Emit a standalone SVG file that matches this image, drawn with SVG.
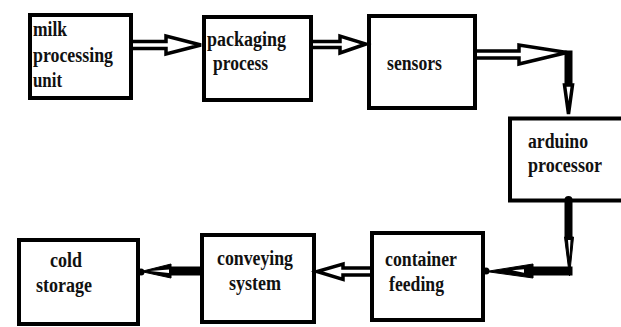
<svg xmlns="http://www.w3.org/2000/svg" width="621" height="327" viewBox="0 0 621 327">
  <style>
    .box { fill: #ffffff; stroke: #000000; stroke-width: 4; }
    .lbl { font-family: "Liberation Serif", "Times New Roman", serif; font-weight: bold; font-size: 20px; fill: #111111; }
    .hollow { fill: #ffffff; stroke: #000000; stroke-width: 3.5; stroke-linejoin: miter; }
    .solid { fill: #000000; stroke: #000000; stroke-width: 1; }
    .slit { fill: #ffffff; }
  </style>
  <rect width="621" height="327" fill="#ffffff"/>

  <g id="milk-processing-unit">
    <rect class="box" x="30" y="15" width="101" height="83"/>
    <text class="lbl" x="33" y="36" textLength="34" lengthAdjust="spacingAndGlyphs">milk</text>
    <text class="lbl" x="33" y="62" textLength="80" lengthAdjust="spacingAndGlyphs">processing</text>
    <text class="lbl" x="33" y="87" textLength="29" lengthAdjust="spacingAndGlyphs">unit</text>
  </g>

  <g id="packaging-process">
    <rect class="box" x="204" y="17" width="107" height="83"/>
    <text class="lbl" x="207" y="46" textLength="79" lengthAdjust="spacingAndGlyphs">packaging</text>
    <text class="lbl" x="213" y="70" textLength="55" lengthAdjust="spacingAndGlyphs">process</text>
  </g>

  <g id="sensors">
    <rect class="box" x="369" y="16" width="106" height="92"/>
    <text class="lbl" x="387" y="70" textLength="55" lengthAdjust="spacingAndGlyphs">sensors</text>
  </g>

  <g id="arduino-processor">
    <rect class="box" x="510" y="118.5" width="120" height="82"/>
    <text class="lbl" x="528" y="148" textLength="60" lengthAdjust="spacingAndGlyphs">arduino</text>
    <text class="lbl" x="528" y="172" textLength="74" lengthAdjust="spacingAndGlyphs">processor</text>
  </g>

  <g id="container-feeding">
    <rect class="box" x="372" y="233" width="111" height="87"/>
    <text class="lbl" x="385" y="266" textLength="72" lengthAdjust="spacingAndGlyphs">container</text>
    <text class="lbl" x="389" y="291" textLength="55" lengthAdjust="spacingAndGlyphs">feeding</text>
  </g>

  <g id="conveying-system">
    <rect class="box" x="202" y="235" width="112" height="87"/>
    <text class="lbl" x="217" y="265" textLength="76" lengthAdjust="spacingAndGlyphs">conveying</text>
    <text class="lbl" x="229" y="290" textLength="52" lengthAdjust="spacingAndGlyphs">system</text>
  </g>

  <g id="cold-storage">
    <rect class="box" x="19" y="240" width="119" height="84"/>
    <text class="lbl" x="50" y="267" textLength="32" lengthAdjust="spacingAndGlyphs">cold</text>
    <text class="lbl" x="36" y="292" textLength="56" lengthAdjust="spacingAndGlyphs">storage</text>
  </g>

  <!-- connectors, drawn on top so end dots sit over the box borders -->
  <g id="connectors">
    <!-- milk processing unit -> packaging process -->
    <path class="hollow" d="M133,41.5 L166,41.5 L166,36 L201,45 L166,54 L166,48.5 L133,48.5"/>
    <!-- packaging process -> sensors -->
    <path class="hollow" d="M313,41.5 L340,41.5 L340,36 L366,44 L340,53 L340,47.5 L313,47.5"/>
    <!-- sensors -> corner -->
    <path class="hollow" d="M477,51 L519,51 L519,45 L567,52.5 L519,64 L519,58 L477,58"/>
    <!-- corner -> arduino processor -->
    <rect class="solid" x="565" y="51" width="7" height="34"/>
    <path class="hollow" d="M564.5,85 L572.5,85 L568.5,114 Z" stroke-width="3"/>
    <!-- arduino processor -> corner -->
    <circle cx="568.5" cy="200" r="4"/>
    <rect class="solid" x="565" y="200" width="7" height="37"/>
    <path class="solid" d="M564.5,237 L573.5,237 L569.5,276 Z"/>
    <path class="slit" d="M568,240 L570.5,240 L569.5,257 Z"/>
    <!-- corner -> container feeding -->
    <rect class="solid" x="532" y="267" width="40" height="8"/>
    <path class="solid" d="M533,264 L533,278 L486,271.5 Z"/>
    <circle cx="486" cy="271" r="3.5"/>
    <path class="slit" d="M512,270.2 L524,269.3 L524,272.7 Z"/>
    <!-- container feeding -> conveying system -->
    <path class="hollow" d="M370,268 L343,268 L343,264 L317,271.5 L343,279.5 L343,275 L370,275"/>
    <!-- conveying system -> cold storage -->
    <rect class="solid" x="169" y="267" width="32" height="8"/>
    <path class="solid" d="M171,264 L171,278 L141,271.5 Z"/>
    <circle cx="141" cy="272" r="3.5"/>
    <path class="slit" d="M150,271 L169,269.6 L169,273 Z"/>
  </g>
</svg>
